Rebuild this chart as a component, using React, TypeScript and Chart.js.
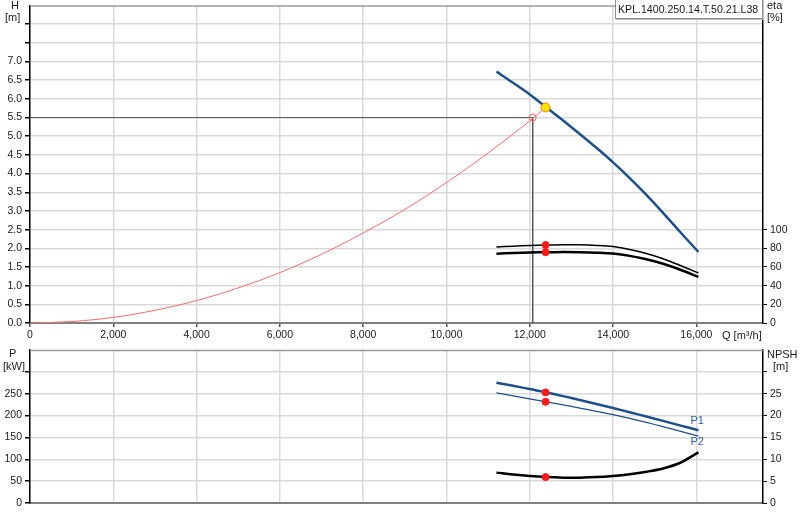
import { useEffect, useRef } from 'react';
import { Chart, registerables } from 'chart.js';

Chart.register(...registerables);

// pump curve
const flow = [11200, 11600, 12000, 12400, 12800, 13200, 13600, 14000, 14400, 14800, 15200, 15600, 16050];
const head = [6.73, 6.43, 6.12, 5.77, 5.42, 5.06, 4.69, 4.3, 3.88, 3.43, 2.95, 2.45, 1.9];
const etaUpper = [81.3, 82.3, 83.0, 83.5, 83.8, 83.7, 83.1, 81.8, 78.8, 74.4, 68.8, 61.8, 53.5];
const etaLower = [74.2, 75.0, 75.5, 75.8, 75.9, 75.8, 75.3, 74.3, 71.9, 68.2, 63.4, 57.3, 49.3];
const powerP1 = [275, 268, 261, 253, 244.5, 235.7, 226.6, 217.2, 207.6, 197.8, 187.8, 177.6, 166.5];
const powerP2 = [252, 245, 238.2, 231.5, 224.5, 217.2, 209.7, 202, 193.5, 184.4, 174.7, 164.4, 153];
const npshRequired = [6.95, 6.5, 6.15, 5.92, 5.8, 5.8, 5.92, 6.2, 6.6, 7.15, 7.9, 9.15, 11.6];

// system curve
const systemFlow = [0, 1000, 2000, 3000, 4000, 5000, 6000, 7000, 8000, 9000, 10000, 11000, 12000, 12380];
const systemHead = [0, 0.04, 0.15, 0.34, 0.6, 0.94, 1.35, 1.84, 2.41, 3.04, 3.76, 4.55, 5.41, 5.77];

// duty / operating points
const dutyFlow = 12070;
const dutyHead = 5.5;
const opFlow = 12380;
const opHead = 5.77;
const opEta = [83.5, 75.8];
const opPower = [253, 231.5];
const opNpsh = 5.92;

// ticks
const flowTicks = [0, 2000, 4000, 6000, 8000, 10000, 12000, 14000, 16000];
const headTicks = [0, 0.5, 1, 1.5, 2, 2.5, 3, 3.5, 4, 4.5, 5, 5.5, 6, 6.5, 7, 7.5, 8];
const etaTicks = [0, 20, 40, 60, 80, 100];
const powerTicks = [0, 50, 100, 150, 200, 250, 300];
const npshTicks = [0, 5, 10, 15, 20, 25, 30];

const FONT = { family: '"Liberation Sans", Arial, sans-serif', size: 10.5 };
const TEXT = '#1a1a1a';
const GRID = '#d9d9d9';
const BLUE = '#1c4f8c';

const pts = (xs: number[], ys: number[]) => xs.map((x, i) => ({ x, y: ys[i] }));

const fixWidth = (w: number) => (scale: any) => {
  scale.width = w;
  scale.paddingTop = 0;
  scale.paddingBottom = 0;
};
const fixHeight = (h: number) => (scale: any) => {
  scale.height = h;
  scale.paddingLeft = 0;
  scale.paddingRight = 0;
};
const useTicks = (values: number[]) => (scale: any) => {
  scale.ticks = values.map((value) => ({ value }));
};

const topBorder = {
  id: 'topBorder',
  beforeDatasetsDraw(chart: any) {
    const { ctx, chartArea } = chart;
    ctx.save();
    ctx.strokeStyle = '#9a9a9a';
    ctx.lineWidth = 1.5;
    ctx.beginPath();
    ctx.moveTo(chartArea.left, chartArea.top + 0.5);
    ctx.lineTo(chartArea.right, chartArea.top + 0.5);
    ctx.stroke();
    ctx.restore();
  },
};

const endLabels = {
  id: 'endLabels',
  afterDatasetsDraw(chart: any) {
    const { ctx } = chart;
    ctx.save();
    ctx.font = `${FONT.size + 0.5}px ${FONT.family}`;
    ctx.fillStyle = '#2a5fa5';
    ctx.textBaseline = 'middle';
    chart.data.datasets.forEach((ds: any, i: number) => {
      if (!ds.endLabel) return;
      const meta = chart.getDatasetMeta(i);
      const last = meta.data[meta.data.length - 1];
      ctx.fillText(ds.endLabel, last.x - 8, last.y + ds.endLabelDy);
    });
    ctx.restore();
  },
};

const xAxis = (showLabels: boolean, height: number) => ({
  type: 'linear' as const,
  min: 0,
  max: 17600,
  afterFit: fixHeight(height),
  afterBuildTicks: useTicks(flowTicks),
  ticks: {
    display: showLabels,
    autoSkip: false,
    maxRotation: 0,
    padding: 2,
    color: TEXT,
    font: FONT,
    callback: (v: any) => Number(v).toLocaleString('en-US'),
  },
  grid: {
    color: GRID,
    lineWidth: 1.5,
    drawTicks: showLabels,
    tickLength: 4,
    tickColor: '#555',
  },
  border: { color: '#808080', width: 2 },
});

const leftAxis = (max: number, ticks: number[], lastLabel: number, fmt: (v: number) => string) => ({
  type: 'linear' as const,
  position: 'left' as const,
  min: 0,
  max,
  afterFit: fixWidth(30),
  afterBuildTicks: useTicks(ticks),
  ticks: {
    autoSkip: false,
    padding: 3,
    color: TEXT,
    font: FONT,
    callback: (v: any) => (v > lastLabel + 1e-6 ? '' : fmt(Number(v))),
  },
  grid: { color: GRID, lineWidth: 1.5, tickLength: 5, tickColor: '#000' },
  border: { color: '#000', width: 1.5 },
});

const rightAxis = (max: number, ticks: number[], lastLabel: number) => ({
  type: 'linear' as const,
  position: 'right' as const,
  min: 0,
  max,
  afterFit: fixWidth(37),
  afterBuildTicks: useTicks(ticks),
  ticks: {
    autoSkip: false,
    padding: 3,
    color: TEXT,
    font: FONT,
    callback: (v: any) => (v > lastLabel + 1e-6 ? '' : String(v)),
  },
  grid: { drawOnChartArea: false, tickLength: 4, tickColor: '#000' },
  border: { color: '#000', width: 1.5 },
});

const curve = (data: any[], color: string, width: number, yAxisID: string) => ({
  data,
  yAxisID,
  borderColor: color,
  borderWidth: width,
  pointRadius: 0,
  fill: false,
  tension: 0.35,
});

const dots = (data: any[], yAxisID: string, bg: string, border: string, r: number) => ({
  data,
  yAxisID,
  showLine: false,
  pointRadius: r,
  pointBackgroundColor: bg,
  pointBorderColor: border,
  pointBorderWidth: 1,
});

function HeadChart() {
  const canvasRef = useRef<HTMLCanvasElement>(null);
  const chartRef = useRef<Chart | null>(null);

  useEffect(() => {
    if (!canvasRef.current) return;
    chartRef.current?.destroy();
    chartRef.current = new Chart(canvasRef.current, {
      type: 'line',
      data: {
        datasets: [
          dots([{ x: opFlow, y: opHead }], 'y', '#ffe600', '#ff7a00', 4.5),
          dots([{ x: opFlow, y: opEta[0] }, { x: opFlow, y: opEta[1] }], 'eta', '#ff1a1a', '#ff1a1a', 3.5),
          dots([{ x: dutyFlow, y: dutyHead }], 'y', 'rgba(255,255,255,0)', '#ff6060', 3.5),
          curve(pts(flow, head), BLUE, 2.5, 'y'),
          curve(pts(flow, etaUpper), '#000', 1.5, 'eta'),
          curve(pts(flow, etaLower), '#000', 2.5, 'eta'),
          curve(pts(systemFlow, systemHead), '#ff6a6a', 1, 'y'),
          {
            ...curve([{ x: 0, y: dutyHead }, { x: dutyFlow, y: dutyHead }, { x: dutyFlow, y: 0 }], '#555', 1, 'y'),
            tension: 0,
          },
        ] as any,
      },
      options: {
        animation: false,
        responsive: false,
        layout: { padding: 0 },
        plugins: { legend: { display: false }, tooltip: { enabled: false } },
        scales: {
          x: xAxis(true, 22),
          y: leftAxis(8.5, headTicks, 7, (v) => v.toFixed(1)),
          eta: rightAxis(340, etaTicks, 100),
        } as any,
      },
      plugins: [topBorder],
    });
    return () => chartRef.current?.destroy();
  }, []);

  return <canvas ref={canvasRef} width={800} height={345} style={{ position: 'absolute', left: 0, top: 0 }} />;
}

function PowerChart() {
  const canvasRef = useRef<HTMLCanvasElement>(null);
  const chartRef = useRef<Chart | null>(null);

  useEffect(() => {
    if (!canvasRef.current) return;
    chartRef.current?.destroy();
    chartRef.current = new Chart(canvasRef.current, {
      type: 'line',
      data: {
        datasets: [
          dots([{ x: opFlow, y: opPower[0] }, { x: opFlow, y: opPower[1] }], 'p', '#ff1a1a', '#ff1a1a', 3.5),
          dots([{ x: opFlow, y: opNpsh }], 'npsh', '#ff1a1a', '#ff1a1a', 3.5),
          { ...curve(pts(flow, powerP1), BLUE, 2.5, 'p'), endLabel: 'P1', endLabelDy: -9 },
          { ...curve(pts(flow, powerP2), BLUE, 1.2, 'p'), endLabel: 'P2', endLabelDy: 6 },
          curve(pts(flow, npshRequired), '#000', 2.5, 'npsh'),
        ] as any,
      },
      options: {
        animation: false,
        responsive: false,
        layout: { padding: { top: 5 } },
        plugins: { legend: { display: false }, tooltip: { enabled: false } },
        scales: {
          x: xAxis(false, 17),
          p: leftAxis(350, powerTicks, 250, (v) => String(v)),
          npsh: rightAxis(35, npshTicks, 25),
        } as any,
      },
      plugins: [topBorder, endLabels],
    });
    return () => chartRef.current?.destroy();
  }, []);

  return <canvas ref={canvasRef} width={800} height={175} style={{ position: 'absolute', left: 0, top: 345 }} />;
}

const label = (text: string, left: number, top: number) => (
  <div style={{ position: 'absolute', left, top, fontSize: 11, lineHeight: '12px', color: TEXT, whiteSpace: 'nowrap' }}>
    {text}
  </div>
);

export default function App() {
  return (
    <div
      style={{
        position: 'fixed',
        left: 0,
        top: 0,
        width: 800,
        height: 520,
        background: '#fff',
        overflow: 'hidden',
        fontFamily: '"Liberation Sans", Arial, sans-serif',
      }}
    >
      <HeadChart />
      <PowerChart />
      {label('H', 11, -1)}
      {label('[m]', 5, 11)}
      {label('eta', 767, -1)}
      {label('[%]', 767, 11)}
      {label('Q [m³/h]', 722, 329)}
      {label('P', 9, 347)}
      {label('[kW]', 3, 360)}
      {label('NPSH', 767, 348)}
      {label('[m]', 773, 360)}
      <div
        style={{
          position: 'absolute',
          left: 615,
          top: -1,
          width: 144,
          height: 18,
          border: '1px solid #8c8c8c',
          boxShadow: '1px 1px 0 #bdbdbd',
          background: '#fff',
          fontSize: 10.6,
          lineHeight: '18px',
          color: TEXT,
          paddingLeft: 2,
          whiteSpace: 'nowrap',
          overflow: 'hidden',
        }}
      >
        KPL.1400.250.14.T.50.21.L38
      </div>
    </div>
  );
}
